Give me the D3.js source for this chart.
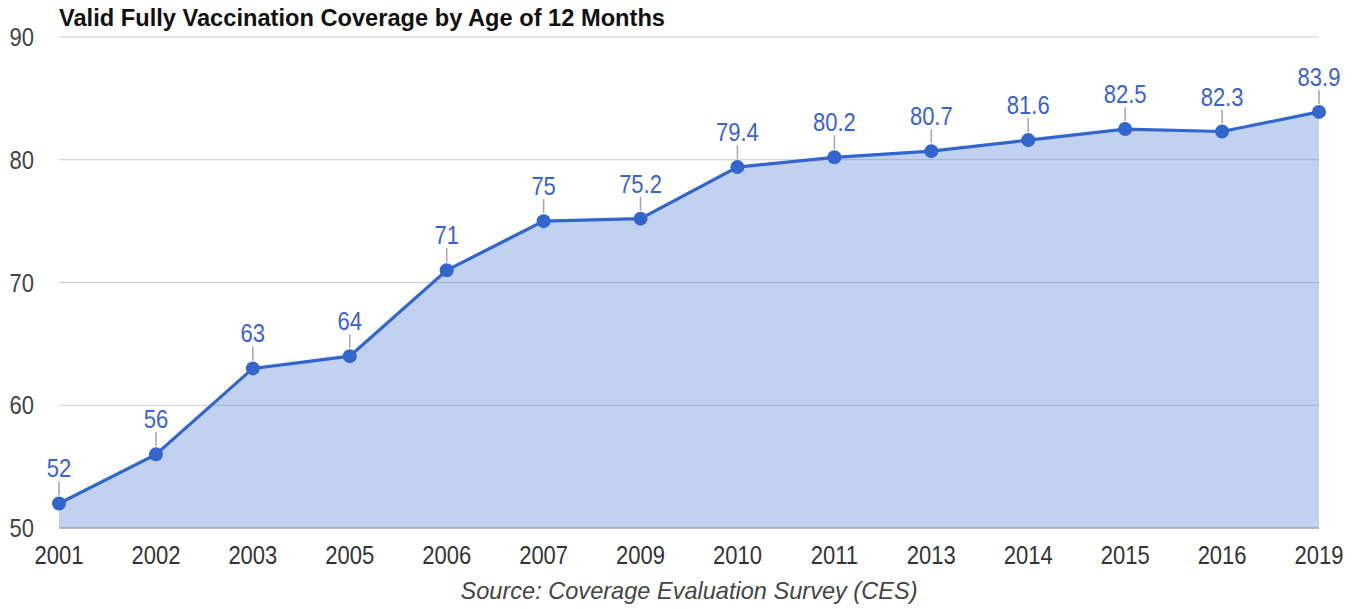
<!DOCTYPE html>
<html>
<head>
<meta charset="utf-8">
<script src="https://cdn.jsdelivr.net/npm/d3@7"></script>
<style>
  body { margin: 0; background: #fff; }
  svg { display: block; }
</style>
</head>
<body>
<svg id="chart" width="1371" height="609"></svg>
<script>
var years = ['2001','2002','2003','2005','2006','2007','2009','2010','2011','2013','2014','2015','2016','2019'];
var coverage = [52, 56, 63, 64, 71, 75, 75.2, 79.4, 80.2, 80.7, 81.6, 82.5, 82.3, 83.9];
var yTicks = [50, 60, 70, 80, 90];

var plotL = 59, plotR = 1319, plotT = 37, plotB = 528;
var blue = '#3366cc';
var font = 'Arial, "Liberation Sans", sans-serif';
var squeeze = 0.88;

var svg = d3.select('#chart');

var x = d3.scalePoint().domain(years).range([plotL, plotR]);
var y = d3.scaleLinear().domain([50, 90]).range([plotB, plotT]);

// position text and narrow it a bit (reference font is condensed)
function place(px, py) {
  return 'translate(' + px + ',' + py + ') scale(' + squeeze + ',1)';
}

// grid lines
svg.append('g').selectAll('line')
  .data(yTicks.slice(1))
  .enter().append('line')
  .attr('x1', plotL).attr('x2', plotR)
  .attr('y1', function(d){ return y(d); })
  .attr('y2', function(d){ return y(d); })
  .attr('stroke', '#cccccc')
  .attr('stroke-width', 1);

// y labels
svg.append('g').selectAll('text')
  .data(yTicks)
  .enter().append('text')
  .attr('transform', function(d){ return place(34, y(d) + 9); })
  .attr('text-anchor', 'end')
  .attr('font-family', font)
  .attr('font-size', 25)
  .attr('fill', '#444')
  .text(function(d){ return d; });

var pts = years.map(function(yr, i){ return {yr: yr, v: coverage[i]}; });

// area
var area = d3.area()
  .x(function(d){ return x(d.yr); })
  .y0(y(50))
  .y1(function(d){ return y(d.v); });
svg.append('path')
  .datum(pts)
  .attr('d', area)
  .attr('fill', blue)
  .attr('fill-opacity', 0.3);

// baseline
svg.append('line')
  .attr('x1', plotL).attr('x2', plotR)
  .attr('y1', y(50)).attr('y2', y(50))
  .attr('stroke', '#9aa3b5')
  .attr('stroke-width', 1.5);

// line
var line = d3.line()
  .x(function(d){ return x(d.yr); })
  .y(function(d){ return y(d.v); });
svg.append('path')
  .datum(pts)
  .attr('d', line)
  .attr('fill', 'none')
  .attr('stroke', blue)
  .attr('stroke-width', 3.2);

// annotation stems
svg.append('g').selectAll('line')
  .data(pts)
  .enter().append('line')
  .attr('x1', function(d){ return x(d.yr); })
  .attr('x2', function(d){ return x(d.yr); })
  .attr('y1', function(d){ return y(d.v) - 8; })
  .attr('y2', function(d){ return y(d.v) - 22; })
  .attr('stroke', '#aaa')
  .attr('stroke-width', 1.6);

// dots
svg.append('g').selectAll('circle')
  .data(pts)
  .enter().append('circle')
  .attr('cx', function(d){ return x(d.yr); })
  .attr('cy', function(d){ return y(d.v); })
  .attr('r', 7)
  .attr('fill', blue);

// value labels
svg.append('g').selectAll('text')
  .data(pts)
  .enter().append('text')
  .attr('transform', function(d){ return place(x(d.yr), y(d.v) - 26); })
  .attr('text-anchor', 'middle')
  .attr('font-family', font)
  .attr('font-size', 25)
  .attr('fill', '#3a62d0')
  .text(function(d){ return d.v; });

// x labels
svg.append('g').selectAll('text')
  .data(years)
  .enter().append('text')
  .attr('transform', function(d){ return place(x(d), 564); })
  .attr('text-anchor', 'middle')
  .attr('font-family', font)
  .attr('font-size', 25)
  .attr('fill', '#333')
  .text(function(d){ return d; });

// title
svg.append('text')
  .attr('x', 59)
  .attr('y', 26)
  .attr('font-family', '"Liberation Sans Narrow", "Arial Narrow", Arial, sans-serif')
  .attr('font-weight', 'bold')
  .attr('font-size', 23)
  .attr('textLength', 606)
  .attr('lengthAdjust', 'spacingAndGlyphs')
  .attr('fill', '#111')
  .text('Valid Fully Vaccination Coverage by Age of 12 Months');

// source
svg.append('text')
  .attr('x', 689)
  .attr('y', 599)
  .attr('text-anchor', 'middle')
  .attr('font-family', font)
  .attr('font-style', 'italic')
  .attr('font-size', 24)
  .attr('textLength', 457)
  .attr('lengthAdjust', 'spacingAndGlyphs')
  .attr('fill', '#444')
  .text('Source: Coverage Evaluation Survey (CES)');
</script>
</body>
</html>
